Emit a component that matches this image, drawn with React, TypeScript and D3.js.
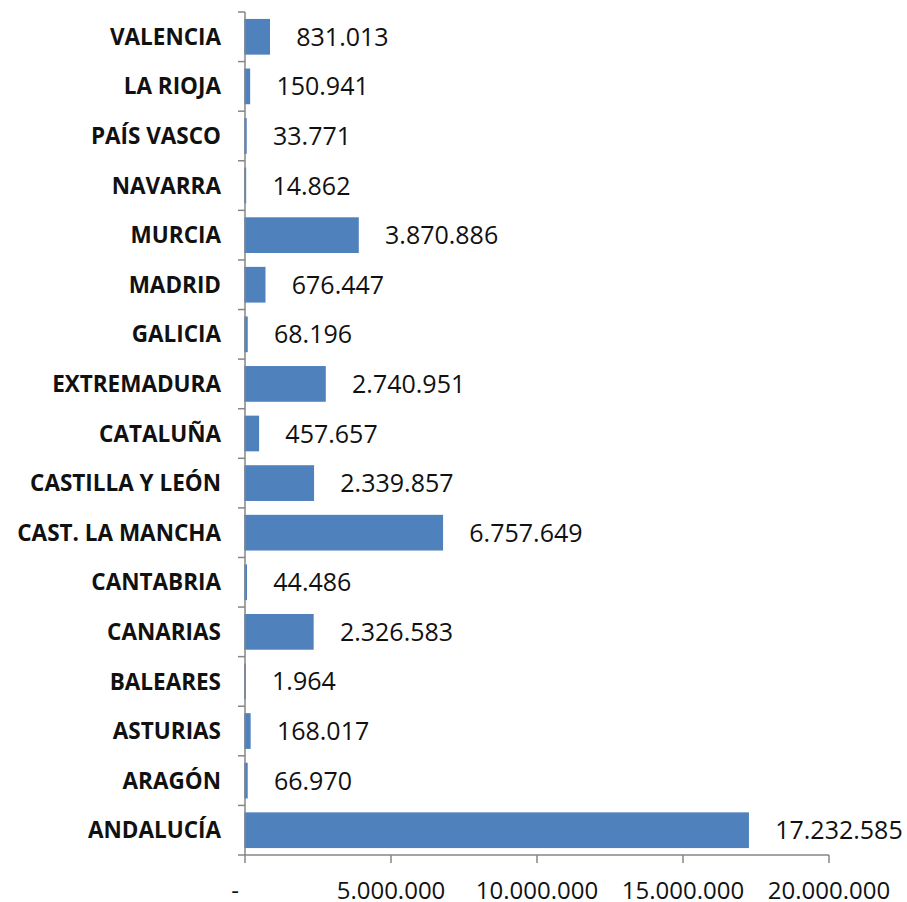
import React from "react";
import * as d3 from "d3";

// categories listed bottom-to-top as in the sheet
const regions = [
  "ANDALUCÍA",
  "ARAGÓN",
  "ASTURIAS",
  "BALEARES",
  "CANARIAS",
  "CANTABRIA",
  "CAST. LA MANCHA",
  "CASTILLA Y LEÓN",
  "CATALUÑA",
  "EXTREMADURA",
  "GALICIA",
  "MADRID",
  "MURCIA",
  "NAVARRA",
  "PAÍS VASCO",
  "LA RIOJA",
  "VALENCIA",
];
const values = [
  17232585, 66970, 168017, 1964, 2326583, 44486, 6757649, 2339857, 457657,
  2740951, 68196, 676447, 3870886, 14862, 33771, 150941, 831013,
];
const xTicks = [0, 5000000, 10000000, 15000000, 20000000];

const fmt = (v: number) => (v === 0 ? "-" : d3.format(",")(v).replace(/,/g, "."));

const W = 907;
const H = 902;
const left = 245;
const right = 829;
const top = 12;
const bottom = 855;

export default function App() {
  const x = d3.scaleLinear().domain([0, 20000000]).range([left, right]);
  const y = d3
    .scaleBand<string>()
    .domain(regions.slice().reverse())
    .range([top, bottom])
    .paddingInner(0.31)
    .paddingOuter(0.155);

  const step = y.step();
  const boundaries = d3.range(regions.length + 1).map((i) => top + i * step);
  const axisColor = "#868686";

  return (
    <svg
      width={W}
      height={H}
      style={{ position: "absolute", left: 0, top: 0, background: "#fff" }}
    >
      {regions.map((r, i) => (
        <g key={r}>
          <rect
            x={x(0)}
            y={y(r)}
            width={x(values[i]) - x(0)}
            height={y.bandwidth()}
            fill="#4F81BD"
            stroke="#4F81BD"
            strokeWidth={1.5}
          />
          <text
            x={221}
            y={(y(r) as number) + y.bandwidth() / 2}
            dy="0.36em"
            textAnchor="end"
            fontFamily="'Open Sans', sans-serif"
            fontWeight="bold"
            fontSize={22.5}
            fill="#111"
          >
            {r}
          </text>
          <text
            x={x(values[i]) + 27}
            y={(y(r) as number) + y.bandwidth() / 2}
            dy="0.36em"
            fontFamily="'Open Sans', sans-serif"
            fontSize={25}
            fill="#111"
          >
            {fmt(values[i])}
          </text>
        </g>
      ))}

      {/* category axis */}
      <line x1={left} x2={left} y1={top} y2={bottom} stroke={axisColor} strokeWidth={1.5} />
      {boundaries.map((b, i) => (
        <line key={i} x1={left - 7} x2={left} y1={b} y2={b} stroke={axisColor} strokeWidth={1.5} />
      ))}

      {/* value axis */}
      <line x1={left} x2={right} y1={bottom} y2={bottom} stroke={axisColor} strokeWidth={1.5} />
      {xTicks.map((t) => (
        <g key={t}>
          <line x1={x(t)} x2={x(t)} y1={bottom} y2={bottom + 8} stroke={axisColor} strokeWidth={1.5} />
          <text
            x={t === 0 ? x(t) - 10 : x(t)}
            y={899}
            textAnchor="middle"
            fontFamily="'Open Sans', sans-serif"
            fontSize={24}
            fill="#111"
          >
            {fmt(t)}
          </text>
        </g>
      ))}
    </svg>
  );
}
